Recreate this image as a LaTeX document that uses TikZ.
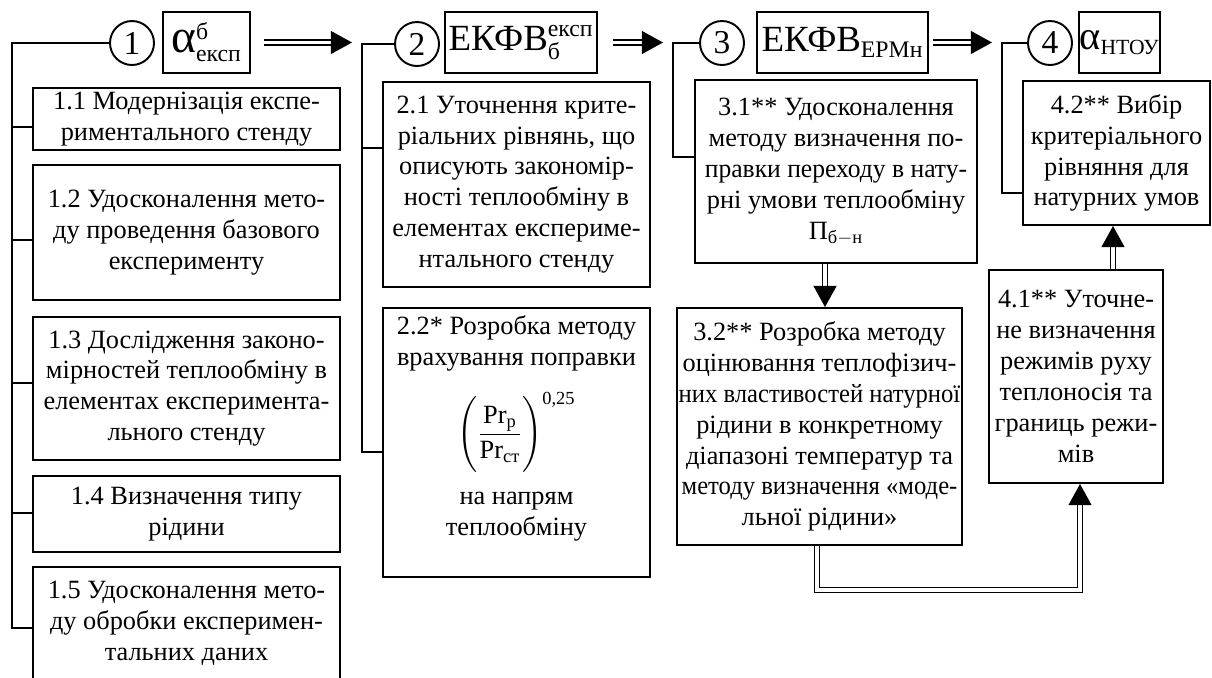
\documentclass[tikz,border=0pt]{standalone}
\usepackage{amsmath}
\usepackage{graphicx}
\usepackage{fontspec}
\setmainfont{Liberation Serif}
\DeclareMathSizes{21}{21}{13.5}{10}
\DeclareMathSizes{15}{15}{10.5}{8}
\usetikzlibrary{arrows.meta,calc}
\newcommand\sqz[2]{\scalebox{#1}[1]{#2}}
\newcommand\alf[1]{\text{\fontsize{#1}{28}\selectfont α}}
\begin{document}
\begin{tikzpicture}[x=0.02cm,y=-0.02cm,line width=1.1pt,
  box/.style={draw,line width=1.1pt,align=center,inner sep=0pt,
    font=\fontsize{15}{17.6}\selectfont},
  hbox/.style={draw,line width=1.1pt,inner sep=0pt,minimum height=61*0.02cm,
    font=\fontsize{21}{24}\selectfont},
  num/.style={draw,circle,line width=1.1pt,inner sep=0pt,minimum size=44*0.02cm,
    font=\fontsize{19}{20}\selectfont},
  dbl/.style={double,double distance=1.9pt,line width=0.8pt,
    -{Triangle[length=12pt,width=13pt]}}]
\clip (0,0) rectangle (1212,677);
% header row
\node[num] (c1) at (132,43) {1};
\node[hbox,minimum width=87*0.02cm] (h1) at (206.5,42.5) {$\alf{27}^{\text{б}}_{\text{експ}}$};
\node[num] (c2) at (417,44) {2};
\node[hbox,minimum width=152*0.02cm] (h2) at (521,42.5) {$\text{ЕКФВ}^{\text{експ}}_{\text{б}}$};
\node[num] (c3) at (722,43) {3};
\node[hbox,minimum width=171*0.02cm] (h3) at (842.5,42.5) {$\text{ЕКФВ}_{\text{ЕРМн}}$};
\node[num] (c4) at (1050,43) {4};
\node[hbox,minimum width=73*0.02cm] (h4) at (1119.5,42.5) {$\alf{23}_{\text{\fontsize{12.3}{13}\selectfont НТОУ}}$};
% column 1
\node[box,minimum width=307*0.02cm,minimum height=62*0.02cm] (b11) at (186.5,119)
  {1.1 Модернізація експе-\\риментального стенду};
\node[box,minimum width=307*0.02cm,minimum height=135*0.02cm] (b12) at (186.5,232.5)
  {1.2 Удосконалення мето-\\ду проведення базового\\експерименту};
\node[box,minimum width=307*0.02cm,minimum height=143*0.02cm] (b13) at (186.5,388.5)
  {1.3 Дослідження законо-\\мірностей теплообміну в\\елементах експеримента-\\льного стенду};
\node[box,minimum width=307*0.02cm,minimum height=76*0.02cm] (b14) at (186.5,514)
  {1.4 Визначення типу\\рідини};
\node[box,minimum width=307*0.02cm,minimum height=113*0.02cm] (b15) at (186.5,623.5)
  {1.5 Удосконалення мето-\\ду обробки експеримен-\\тальних даних};
% column 2
\node[box,minimum width=267*0.02cm,minimum height=205*0.02cm] (b21) at (516.5,184.5)
  {2.1 Уточнення крите-\\ріальних рівнянь, що\\описують закономір-\\ності теплообміну в\\елементах експериме-\\нтального стенду};
\node[box,minimum width=267*0.02cm,minimum height=269*0.02cm] (b22) at (516.5,442.5)
  {2.2* Розробка методу\\врахування поправки\\[11pt]
   $\left(\rule[-17pt]{0pt}{42pt}\dfrac{\text{Pr}_{\text{р}}}{\text{Pr}_{\text{ст}}}\right)^{\text{0,25}}$\\[10pt]
   на напрям\\теплообміну\\[2pt]\mbox{}};
% column 3
\node[box,minimum width=282*0.02cm,minimum height=183*0.02cm] (b31) at (836,171.5)
  {3.1** Удосконалення\\методу визначення по-\\\sqz{0.97}{правки переходу в нату-}\\рні умови теплообміну\\$\text{П}_{\text{б}-\text{н}}$};
\node[box,minimum width=285*0.02cm,minimum height=237*0.02cm] (b32) at (819.5,426.5)
  {3.2** Розробка методу\\оцінювання теплофізич-\\\sqz{0.935}{них властивостей натурної}\\рідини в конкретному\\діапазоні температур та\\\sqz{0.935}{методу визначення «моде-}\\льної рідини»};
% column 4
\node[box,minimum width=187*0.02cm,minimum height=144*0.02cm] (b42) at (1116.5,153)
  {4.2** Вибір\\критеріального\\рівняння для\\натурних умов};
\node[box,minimum width=174*0.02cm,minimum height=213*0.02cm] (b41) at (1076,376.5)
  {4.1** Уточне-\\не визначення\\режимів руху\\теплоносія та\\границь режи-\\мів};
% trunk coordinates
\coordinate (t1) at (12,43);
\coordinate (t2) at (362,44);
\coordinate (t3) at (673,43);
\coordinate (t4) at (1002,43);
% trunk 1
\draw (c1.west) -- (t1) |- (b15.west |- 0,628);
\draw (t1 |- 0,127) -- (b11.west |- 0,127);
\draw (t1 |- 0,240) -- (b12.west |- 0,240);
\draw (t1 |- 0,383) -- (b13.west |- 0,383);
\draw (t1 |- 0,513) -- (b14.west |- 0,513);
% trunk 2
\draw (c2.west) -- (t2) |- (b22.west |- 0,452);
\draw (t2 |- 0,148) -- (b21.west |- 0,148);
% trunk 3
\draw (c3.west) -- (t3) |- (b31.west |- 0,157);
% trunk 4
\draw (c4.west) -- (t4) |- (b42.west |- 0,193);
% header arrows
\draw[dbl] ([xshift=0.26cm]h1.east) -- ([xshift=-0.2cm]h1.east -| t2);
\draw[dbl] ([xshift=0.3cm]h2.east) -- ([xshift=-0.2cm]h2.east -| t3);
\draw[dbl] ([xshift=0.08cm]h3.east) -- ([xshift=-0.2cm]h3.east -| t4);
% vertical arrows
\draw[dbl] (b31.south -| 825,0) -- (b32.north -| 825,0);
\draw[dbl] (b41.north -| 1113,0) -- (b42.south -| 1113,0);
\draw[dbl] (b32.south -| 817,0) -- (817,590) -| (b41.south -| 1080,0);
\end{tikzpicture}
\end{document}
